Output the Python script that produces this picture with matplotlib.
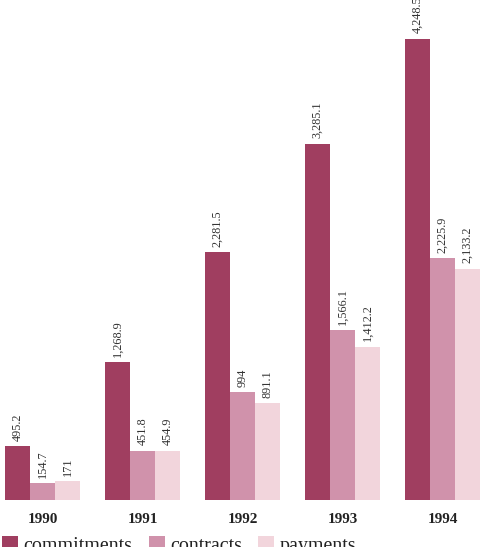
import matplotlib
matplotlib.use("Agg")
import matplotlib.pyplot as plt
import numpy as np

years = ["1990", "1991", "1992", "1993", "1994"]
commitments = [495.2, 1268.9, 2281.5, 3285.1, 4248.5]
contracts = [154.7, 451.8, 994, 1566.1, 2225.9]
payments = [171, 454.9, 891.1, 1412.2, 2133.2]
series_names = ["commitments", "contracts", "payments"]
colors = ["#a03e60", "#d092ab", "#f2d5dc"]

plt.rcParams['font.family'] = ['Liberation Serif', 'DejaVu Serif']

fig = plt.figure(figsize=(4.87, 5.47), dpi=100)
ax = fig.add_axes([0, 1 - 500/547, 1, 500/547])

x = np.arange(len(years))
w = 0.25
handles = []
for i, (vals, name, col) in enumerate(zip([commitments, contracts, payments], series_names, colors)):
    bars = ax.bar(x + (i - 1) * w, vals, width=w, color=col, label=name)
    handles.append(bars)
    for xi, v in zip(x + (i - 1) * w, vals):
        txt = f"{v:,.1f}" if v != int(v) else f"{int(v):,}"
        ax.annotate(txt, (xi, v), xytext=(0, 4), textcoords="offset points",
                    rotation=90, ha="center", va="bottom", fontsize=8.8, color="#333333",
                    annotation_clip=False)

ax.set_xlim(-0.425, 4.445)
ax.set_ylim(0, 4608)
ax.axis("off")

for xi, yr in zip(x, years):
    ax.text(xi, -180, yr, ha="center", va="center", fontsize=11, fontweight="bold",
            color="#222222", transform=ax.transData, clip_on=False)

leg = fig.legend(handles=handles, labels=series_names, loc="upper left",
                 bbox_to_anchor=(0.005, 11/547), ncol=3, frameon=False, fontsize=14.4,
                 handlelength=0.8, handleheight=0.8, handletextpad=0.25,
                 columnspacing=0.82, borderpad=0, borderaxespad=0)
for t in leg.get_texts():
    t.set_color("#222222")

fig.savefig("out.png", dpi=100)
